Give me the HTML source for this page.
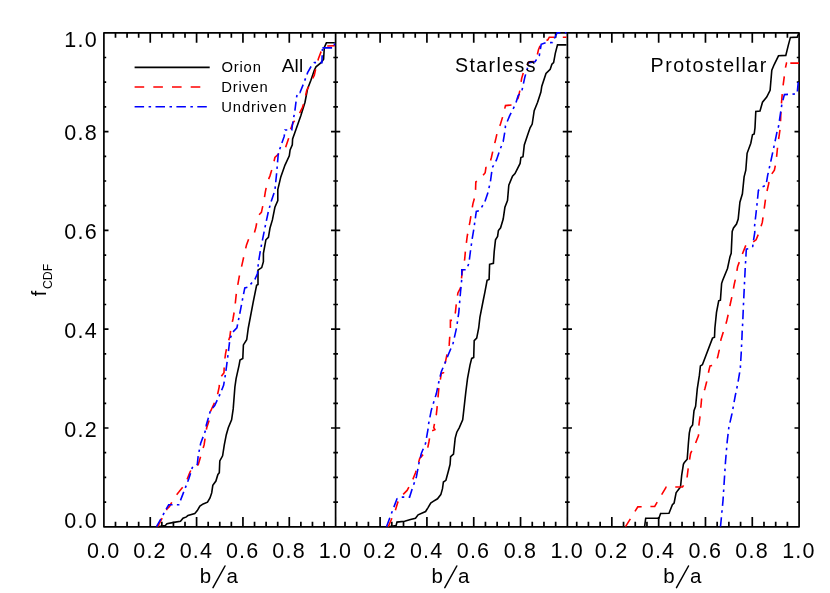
<!DOCTYPE html>
<html><head><meta charset="utf-8"><title>CDF of b/a</title>
<style>html,body{margin:0;padding:0;background:#fff;}body{width:830px;height:593px;overflow:hidden;}svg{display:block;will-change:transform;}text{font-family:"Liberation Sans",sans-serif;fill:#000;}</style>
</head><body>
<svg width="830" height="593" viewBox="0 0 830 593">
<rect x="0" y="0" width="830" height="593" fill="#ffffff"/>
<clipPath id="c0"><rect x="103.0" y="31.9" width="233.5" height="495.8"/></clipPath>
<clipPath id="c1"><rect x="334.7" y="31.9" width="233.5" height="495.8"/></clipPath>
<clipPath id="c2"><rect x="566.5" y="31.9" width="233.5" height="495.8"/></clipPath>
<path fill="none" stroke="#000" stroke-width="1.70" stroke-linejoin="round" d="M103.9 32.8H799.1V526.8H103.9ZM335.6 32.8V526.8M567.4 32.8V526.8M103.90 32.8v9.90M103.90 526.8v-9.90M115.49 32.8v4.95M115.49 526.8v-4.95M127.07 32.8v4.95M127.07 526.8v-4.95M138.66 32.8v4.95M138.66 526.8v-4.95M150.25 32.8v9.90M150.25 526.8v-9.90M161.83 32.8v4.95M161.83 526.8v-4.95M173.42 32.8v4.95M173.42 526.8v-4.95M185.01 32.8v4.95M185.01 526.8v-4.95M196.59 32.8v9.90M196.59 526.8v-9.90M208.18 32.8v4.95M208.18 526.8v-4.95M219.77 32.8v4.95M219.77 526.8v-4.95M231.35 32.8v4.95M231.35 526.8v-4.95M242.94 32.8v9.90M242.94 526.8v-9.90M254.53 32.8v4.95M254.53 526.8v-4.95M266.11 32.8v4.95M266.11 526.8v-4.95M277.70 32.8v4.95M277.70 526.8v-4.95M289.29 32.8v9.90M289.29 526.8v-9.90M300.87 32.8v4.95M300.87 526.8v-4.95M312.46 32.8v4.95M312.46 526.8v-4.95M324.05 32.8v4.95M324.05 526.8v-4.95M335.63 32.8v9.90M335.63 526.8v-9.90M345.00 32.8v4.95M345.00 526.8v-4.95M356.70 32.8v4.95M356.70 526.8v-4.95M368.40 32.8v4.95M368.40 526.8v-4.95M380.11 32.8v9.90M380.11 526.8v-9.90M391.81 32.8v4.95M391.81 526.8v-4.95M403.51 32.8v4.95M403.51 526.8v-4.95M415.22 32.8v4.95M415.22 526.8v-4.95M426.92 32.8v9.90M426.92 526.8v-9.90M438.63 32.8v4.95M438.63 526.8v-4.95M450.33 32.8v4.95M450.33 526.8v-4.95M462.03 32.8v4.95M462.03 526.8v-4.95M473.74 32.8v9.90M473.74 526.8v-9.90M485.44 32.8v4.95M485.44 526.8v-4.95M497.14 32.8v4.95M497.14 526.8v-4.95M508.85 32.8v4.95M508.85 526.8v-4.95M520.55 32.8v9.90M520.55 526.8v-9.90M532.26 32.8v4.95M532.26 526.8v-4.95M543.96 32.8v4.95M543.96 526.8v-4.95M555.66 32.8v4.95M555.66 526.8v-4.95M567.37 32.8v9.90M567.37 526.8v-9.90M576.73 32.8v4.95M576.73 526.8v-4.95M588.43 32.8v4.95M588.43 526.8v-4.95M600.14 32.8v4.95M600.14 526.8v-4.95M611.84 32.8v9.90M611.84 526.8v-9.90M623.54 32.8v4.95M623.54 526.8v-4.95M635.25 32.8v4.95M635.25 526.8v-4.95M646.95 32.8v4.95M646.95 526.8v-4.95M658.66 32.8v9.90M658.66 526.8v-9.90M670.36 32.8v4.95M670.36 526.8v-4.95M682.06 32.8v4.95M682.06 526.8v-4.95M693.77 32.8v4.95M693.77 526.8v-4.95M705.47 32.8v9.90M705.47 526.8v-9.90M717.17 32.8v4.95M717.17 526.8v-4.95M728.88 32.8v4.95M728.88 526.8v-4.95M740.58 32.8v4.95M740.58 526.8v-4.95M752.29 32.8v9.90M752.29 526.8v-9.90M763.99 32.8v4.95M763.99 526.8v-4.95M775.69 32.8v4.95M775.69 526.8v-4.95M787.40 32.8v4.95M787.40 526.8v-4.95M799.10 32.8v9.90M799.10 526.8v-9.90M103.9 526.80h4.60M799.1 526.80h-4.60M331.03 526.80h9.20M562.77 526.80h9.20M103.9 502.10h2.30M799.1 502.10h-2.30M333.33 502.10h4.60M565.07 502.10h4.60M103.9 477.40h2.30M799.1 477.40h-2.30M333.33 477.40h4.60M565.07 477.40h4.60M103.9 452.70h2.30M799.1 452.70h-2.30M333.33 452.70h4.60M565.07 452.70h4.60M103.9 428.00h4.60M799.1 428.00h-4.60M331.03 428.00h9.20M562.77 428.00h9.20M103.9 403.30h2.30M799.1 403.30h-2.30M333.33 403.30h4.60M565.07 403.30h4.60M103.9 378.60h2.30M799.1 378.60h-2.30M333.33 378.60h4.60M565.07 378.60h4.60M103.9 353.90h2.30M799.1 353.90h-2.30M333.33 353.90h4.60M565.07 353.90h4.60M103.9 329.20h4.60M799.1 329.20h-4.60M331.03 329.20h9.20M562.77 329.20h9.20M103.9 304.50h2.30M799.1 304.50h-2.30M333.33 304.50h4.60M565.07 304.50h4.60M103.9 279.80h2.30M799.1 279.80h-2.30M333.33 279.80h4.60M565.07 279.80h4.60M103.9 255.10h2.30M799.1 255.10h-2.30M333.33 255.10h4.60M565.07 255.10h4.60M103.9 230.40h4.60M799.1 230.40h-4.60M331.03 230.40h9.20M562.77 230.40h9.20M103.9 205.70h2.30M799.1 205.70h-2.30M333.33 205.70h4.60M565.07 205.70h4.60M103.9 181.00h2.30M799.1 181.00h-2.30M333.33 181.00h4.60M565.07 181.00h4.60M103.9 156.30h2.30M799.1 156.30h-2.30M333.33 156.30h4.60M565.07 156.30h4.60M103.9 131.60h4.60M799.1 131.60h-4.60M331.03 131.60h9.20M562.77 131.60h9.20M103.9 106.90h2.30M799.1 106.90h-2.30M333.33 106.90h4.60M565.07 106.90h4.60M103.9 82.20h2.30M799.1 82.20h-2.30M333.33 82.20h4.60M565.07 82.20h4.60M103.9 57.50h2.30M799.1 57.50h-2.30M333.33 57.50h4.60M565.07 57.50h4.60M103.9 32.80h4.60M799.1 32.80h-4.60M331.03 32.80h9.20M562.77 32.80h9.20"/>
<g clip-path="url(#c0)" fill="none" stroke-width="1.6" stroke-linejoin="miter" stroke-miterlimit="3">
<polyline stroke="#000000" points="157.7,526.7 165.3,525.5 167.0,523.8 173.7,522.4 180.5,521.3 183.0,518.2 186.4,516.9 188.0,515.4 194.8,513.5 197.3,510.6 199.9,506.1 203.2,503.9 207.5,502.2 210.0,498.0 211.7,492.9 212.8,485.3 215.9,481.1 217.9,474.4 219.3,472.7 219.8,460.9 222.6,455.8 224.3,444.9 226.3,434.7 228.3,427.8 231.6,419.9 233.2,408.9 234.9,387.0 236.1,378.6 239.1,365.1 240.0,360.0 242.8,358.4 243.4,344.9 246.7,339.8 248.3,328.0 253.2,302.2 256.6,285.3 258.0,284.5 258.0,270.2 261.7,267.6 263.4,261.7 263.4,253.3 265.9,239.8 268.4,237.3 270.0,228.0 272.4,219.9 274.9,207.3 277.8,200.5 277.8,189.6 280.8,176.9 285.0,165.1 289.3,155.8 290.1,149.9 292.3,144.9 292.6,139.0 296.4,128.3 300.8,115.7 305.0,102.2 307.6,88.7 310.9,80.3 314.3,70.2 316.0,66.8 321.1,62.6 323.6,59.2 324.3,47.5 326.4,42.8 334.8,42.8"/>
<polyline stroke="#ff0000" stroke-dasharray="9.60 9.10" points="157.7,526.7 167.0,509.0 169.5,506.4 174.6,497.1 178.8,492.1 185.5,483.6 189.7,472.7 193.1,465.9 198.2,464.8 201.6,453.3 204.1,444.9 206.7,427.8 209.6,419.0 210.5,411.5 214.7,402.2 217.2,396.3 219.2,387.0 219.7,378.6 224.0,372.7 224.3,363.4 225.6,353.3 227.3,344.9 229.9,336.4 231.0,328.0 233.0,319.0 234.7,309.0 236.4,292.9 239.2,276.9 242.3,263.4 243.6,257.5 246.5,244.9 248.7,239.0 254.1,233.9 255.8,227.8 258.1,215.7 261.4,212.3 264.0,200.5 265.3,192.1 267.3,182.0 269.9,176.1 273.2,165.1 274.9,157.5 280.0,152.5 282.5,149.9 285.6,147.4 288.4,139.0 290.1,130.5 293.2,122.4 297.5,117.4 302.5,107.3 304.2,102.2 306.7,90.4 309.3,85.3 314.3,75.2 316.0,67.6 318.5,58.4 321.1,51.6 324.4,46.1 334.8,45.8"/>
<path stroke="#0000ff" d="M322.4 47.9H332.1M334.4 45.6V43.4"/>
<polyline stroke="#0000ff" stroke-dasharray="9.07 4.30 2.39 4.20" points="156.5,526.7 168.7,504.7 178.8,504.7 188.9,478.6 192.3,467.6 197.3,464.3 198.2,455.8 200.7,443.2 205.8,429.7 206.3,425.0 210.5,410.6 214.7,405.6 220.6,392.9 223.6,385.3 225.6,373.5 228.2,353.3 229.9,339.0 232.7,332.2 236.9,327.8 239.7,314.0 242.3,300.5 244.8,287.9 248.2,287.0 254.9,279.4 257.5,273.5 258.3,263.4 260.5,249.9 262.5,239.8 264.9,227.8 268.2,212.3 270.7,203.0 274.9,190.4 276.6,173.5 278.3,153.3 284.2,136.4 285.0,130.0 291.8,130.0 292.4,125.0 294.9,110.6 296.6,97.1 297.5,92.9 300.0,92.6 304.2,82.0 307.6,72.7 310.9,66.8 314.3,62.6 321.9,62.6 322.4,49.0"/>
</g>
<g clip-path="url(#c1)" fill="none" stroke-width="1.6" stroke-linejoin="miter" stroke-miterlimit="3">
<polyline stroke="#000000" points="388.5,526.7 396.1,525.5 397.0,522.1 404.6,521.3 410.5,519.6 415.5,518.2 418.1,514.8 425.6,511.5 428.2,507.3 430.7,503.0 433.2,501.4 437.5,498.8 440.8,494.6 442.5,488.7 443.4,482.0 445.9,480.3 448.4,471.0 450.1,464.3 450.6,456.7 453.5,454.1 455.2,438.1 456.8,432.2 459.2,427.8 462.7,419.9 464.1,407.3 465.8,392.1 467.5,378.6 470.0,365.1 471.7,358.4 473.7,357.5 474.2,340.6 476.7,338.1 478.7,328.0 479.9,317.4 483.2,300.5 484.9,292.1 487.1,280.3 489.1,279.4 489.6,264.3 493.4,263.4 494.2,251.6 495.5,239.8 497.6,236.4 498.4,230.5 500.6,227.8 503.2,219.1 504.9,207.3 507.5,200.5 508.8,185.3 512.5,176.1 515.0,173.5 520.1,163.4 520.9,157.5 523.0,156.7 524.3,144.9 527.7,134.7 530.1,127.8 532.2,124.1 534.2,110.6 537.6,102.2 540.9,92.1 541.8,86.2 546.0,73.5 550.2,69.3 551.9,64.3 553.6,62.6 555.3,53.3 557.5,44.9 566.5,44.9"/>
<polyline stroke="#ff0000" stroke-dasharray="9.22 8.74" points="388.2,526.7 395.3,510.6 397.8,502.2 402.9,494.6 407.1,490.4 412.2,481.1 415.5,472.7 418.1,464.3 419.7,458.4 427.3,449.9 429.0,441.5 430.7,431.4 434.9,429.7 433.7,427.5 436.3,414.8 437.1,407.3 438.8,388.7 440.5,378.6 441.3,373.5 443.5,372.7 445.5,361.7 447.2,353.3 449.2,344.9 449.7,337.3 450.4,327.5 450.4,320.4 453.7,320.4 455.4,312.3 456.3,303.9 457.9,292.9 460.5,287.9 462.2,271.8 464.7,259.2 465.5,249.9 467.2,236.4 468.1,231.4 470.0,221.6 471.2,214.0 472.9,203.9 475.4,194.6 475.8,182.0 479.6,179.4 485.2,172.7 485.9,167.6 488.9,166.8 491.4,157.5 493.1,149.9 495.6,139.8 497.3,132.2 500.5,124.1 503.0,115.7 505.5,105.6 514.0,104.7 518.2,98.0 519.9,90.4 521.6,78.6 524.1,70.2 527.5,64.3 529.1,61.7 535.9,61.4 538.4,49.9 541.0,43.3 547.8,39.8 549.3,37.2 566.5,37.2"/>
<polyline stroke="#0000ff" stroke-dasharray="9.50 4.50 2.50 4.40" points="386.5,526.7 391.9,512.3 397.0,498.8 401.2,497.1 409.6,497.1 412.2,488.7 416.4,476.9 418.9,463.4 421.4,453.3 425.6,443.2 428.2,428.0 428.7,423.3 431.2,410.6 433.7,402.2 436.3,393.8 438.8,382.0 441.3,371.8 445.5,361.7 448.9,353.3 453.1,343.2 456.5,328.0 457.1,324.1 458.8,312.3 460.5,292.1 461.8,278.6 461.8,269.8 466.4,269.8 468.9,263.4 470.6,249.9 472.3,238.1 474.0,228.0 474.6,223.3 476.3,211.5 479.6,210.6 484.7,202.2 488.1,192.1 490.6,180.3 492.3,167.6 496.5,160.0 499.9,149.9 503.2,141.5 504.9,131.4 505.5,125.8 509.7,115.7 515.6,103.9 518.2,95.5 521.6,92.1 524.9,76.9 529.1,62.6 535.0,61.7 539.3,55.8 541.2,44.3 546.0,42.7 552.5,42.5 556.3,34.5 557.2,32.8 566.5,32.8"/>
</g>
<g clip-path="url(#c2)" fill="none" stroke-width="1.6" stroke-linejoin="miter" stroke-miterlimit="3">
<polyline stroke="#000000" points="644.6,526.7 645.7,518.2 658.9,518.2 660.6,513.5 669.0,513.2 672.4,504.7 674.1,503.0 676.1,492.9 677.8,490.4 680.5,487.0 681.7,475.2 683.4,464.3 684.2,462.6 687.2,459.2 688.4,443.2 689.3,433.1 690.4,427.8 692.6,425.0 694.0,410.6 695.6,406.4 697.3,388.7 699.4,375.2 700.4,365.9 702.4,364.8 712.5,338.1 714.5,337.3 714.9,328.0 716.5,312.3 718.7,300.8 720.4,300.2 721.6,283.6 722.7,280.3 727.5,268.5 730.0,256.7 731.2,253.3 732.2,231.4 733.5,228.0 736.5,224.1 738.2,219.1 739.9,202.2 742.4,193.8 744.1,176.9 745.8,170.2 747.1,153.3 750.8,143.2 752.5,134.7 754.2,133.9 755.0,127.8 755.8,111.5 760.0,111.0 762.5,102.2 766.7,97.1 770.1,90.4 771.8,70.2 774.3,64.3 778.5,55.8 785.8,55.4 788.4,44.9 790.4,37.4 797.2,37.1 798.9,33.0"/>
<polyline stroke="#ff0000" stroke-dasharray="9.22 8.74" points="625.5,526.7 637.8,506.9 654.7,506.4 666.2,487.0 682.5,487.0 686.7,480.3 688.4,466.8 690.6,453.3 695.2,444.0 698.5,435.6 698.7,426.7 699.9,417.4 701.6,398.8 704.9,388.7 706.6,382.0 708.8,371.0 710.0,365.9 712.5,365.4 717.6,357.5 719.3,349.9 720.9,339.8 723.5,331.4 726.6,321.6 728.3,314.0 730.5,303.0 732.2,295.5 734.2,284.5 735.9,276.9 737.6,266.8 740.6,258.4 744.3,249.1 746.0,244.9 749.4,244.9 756.1,239.8 759.5,231.4 762.3,222.4 763.5,214.0 766.0,195.5 768.5,184.5 770.2,176.1 774.4,170.2 776.1,161.7 777.8,144.9 779.5,133.1 780.3,127.8 781.1,107.3 782.7,88.7 785.3,68.5 786.5,63.1 787.2,63.1"/>
<path stroke="#ff0000" d="M790.3 63.1H799"/>
<polyline stroke="#0000ff" stroke-dasharray="9.50 4.50 2.50 4.40" points="720.5,526.7 723.0,500.5 725.5,461.7 727.2,441.5 728.8,427.8 731.9,414.0 735.3,395.5 737.8,383.6 740.3,368.5 741.2,353.3 742.0,336.4 742.3,328.0 742.6,325.0 743.5,303.9 744.3,287.0 745.2,268.5 746.0,255.0 746.3,249.1 749.4,248.6 752.7,246.5 753.6,239.8 754.8,232.2 754.5,226.7 756.7,207.3 758.4,190.4 761.8,187.0 766.0,185.3 767.7,175.2 771.1,160.0 773.6,148.2 776.1,136.4 777.8,128.0 778.5,126.7 781.9,103.9 784.4,94.6 797.1,93.8 798.6,78.6"/>
</g>
<text x="103.7" y="557.8" font-size="21.5" text-anchor="middle" letter-spacing="1.2">0.0</text>
<text x="150.0" y="557.8" font-size="21.5" text-anchor="middle" letter-spacing="1.2">0.2</text>
<text x="196.4" y="557.8" font-size="21.5" text-anchor="middle" letter-spacing="1.2">0.4</text>
<text x="242.7" y="557.8" font-size="21.5" text-anchor="middle" letter-spacing="1.2">0.6</text>
<text x="289.1" y="557.8" font-size="21.5" text-anchor="middle" letter-spacing="1.2">0.8</text>
<text x="335.4" y="557.8" font-size="21.5" text-anchor="middle" letter-spacing="1.2">1.0</text>
<text x="379.9" y="557.8" font-size="21.5" text-anchor="middle" letter-spacing="1.2">0.2</text>
<text x="426.7" y="557.8" font-size="21.5" text-anchor="middle" letter-spacing="1.2">0.4</text>
<text x="473.5" y="557.8" font-size="21.5" text-anchor="middle" letter-spacing="1.2">0.6</text>
<text x="520.4" y="557.8" font-size="21.5" text-anchor="middle" letter-spacing="1.2">0.8</text>
<text x="567.2" y="557.8" font-size="21.5" text-anchor="middle" letter-spacing="1.2">1.0</text>
<text x="611.6" y="557.8" font-size="21.5" text-anchor="middle" letter-spacing="1.2">0.2</text>
<text x="658.5" y="557.8" font-size="21.5" text-anchor="middle" letter-spacing="1.2">0.4</text>
<text x="705.3" y="557.8" font-size="21.5" text-anchor="middle" letter-spacing="1.2">0.6</text>
<text x="752.1" y="557.8" font-size="21.5" text-anchor="middle" letter-spacing="1.2">0.8</text>
<text x="798.9" y="557.8" font-size="21.5" text-anchor="middle" letter-spacing="1.2">1.0</text>
<text x="97.8" y="527.8" font-size="21.5" text-anchor="end" letter-spacing="1.2">0.0</text>
<text x="97.8" y="436.7" font-size="21.5" text-anchor="end" letter-spacing="1.2">0.2</text>
<text x="97.8" y="337.9" font-size="21.5" text-anchor="end" letter-spacing="1.2">0.4</text>
<text x="97.8" y="239.1" font-size="21.5" text-anchor="end" letter-spacing="1.2">0.6</text>
<text x="97.8" y="140.3" font-size="21.5" text-anchor="end" letter-spacing="1.2">0.8</text>
<text x="97.8" y="47.3" font-size="21.5" text-anchor="end" letter-spacing="1.2">1.0</text>
<text x="199.7" y="583" font-size="20.5">b</text>
<text x="226.4" y="583" font-size="20.5">a</text>
<path d="M213.0 587.6L225.0 566" stroke="#000" stroke-width="1.5" fill="none" stroke-linecap="round"/>
<text x="431.4" y="583" font-size="20.5">b</text>
<text x="458.1" y="583" font-size="20.5">a</text>
<path d="M444.8 587.6L456.8 566" stroke="#000" stroke-width="1.5" fill="none" stroke-linecap="round"/>
<text x="663.2" y="583" font-size="20.5">b</text>
<text x="689.9" y="583" font-size="20.5">a</text>
<path d="M676.5 587.6L688.5 566" stroke="#000" stroke-width="1.5" fill="none" stroke-linecap="round"/>
<g transform="translate(46.3,296.2) rotate(-90)"><text x="0" y="0" font-size="19.5">f</text><text x="7.2" y="5.8" font-size="12.3">CDF</text></g>
<text x="281.7" y="72.3" font-size="19" letter-spacing="0.2">All</text>
<text x="455" y="72.4" font-size="19.6" letter-spacing="1.4">Starless</text>
<text x="650.6" y="72.3" font-size="19.6" letter-spacing="1.5">Protostellar</text>
<g fill="none" stroke-width="1.6">
<path stroke="#000" d="M134.6 67.4H209.7"/>
<path stroke="#f00" stroke-dasharray="9.6 9.1" d="M134.6 87H200.4"/>
<path stroke="#00f" stroke-dasharray="9.5 4.5 2.5 4.4" d="M134.6 106.7H209.7"/>
</g>
<text x="221.5" y="72.3" font-size="14.8" letter-spacing="0.8">Orion</text>
<text x="221.3" y="92.2" font-size="14.8" letter-spacing="0.75">Driven</text>
<text x="221.3" y="112" font-size="14.8" letter-spacing="0.85">Undriven</text>
</svg>
</body></html>
